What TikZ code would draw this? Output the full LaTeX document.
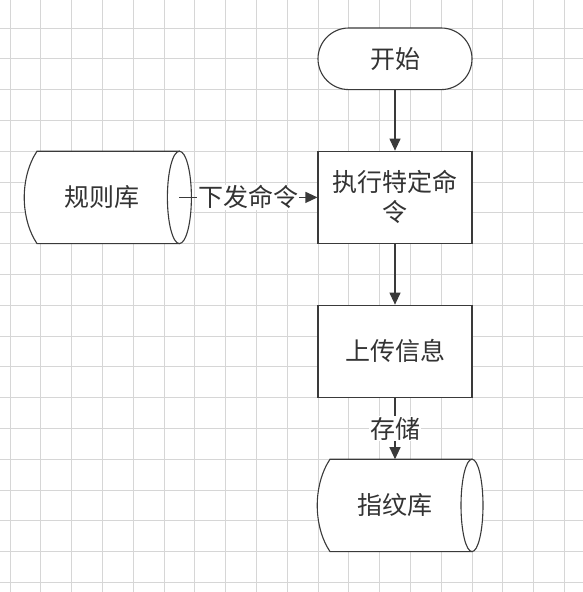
\documentclass[tikz,border=0pt]{standalone}
\usepackage{fontspec}
\newfontfamily\cjk{Noto Sans CJK SC}
\usetikzlibrary{arrows.meta}
\definecolor{gridc}{HTML}{D6D6D6}
\definecolor{linec}{HTML}{3A3A3A}
\definecolor{txtc}{HTML}{333333}
\tikzset{
  txt/.style={font=\cjk\fontsize{25}{30}\selectfont, text=txtc, align=center},
  shapeline/.style={draw=linec, line width=1.1pt, fill=white},
  procbox/.style={txt, shapeline, rectangle, minimum width=154pt, minimum height=92.4pt, inner sep=0pt},
  termbox/.style={txt, shapeline, rectangle, rounded corners=30.8pt, minimum width=154pt, minimum height=61.6pt, inner sep=0pt},
  arr/.style={draw=linec, line width=1.1pt, -{Triangle[width=11pt,length=12pt]}},
  lbl/.style={txt, fill=white, inner sep=1pt},
  gridline/.style={draw=gridc, line width=0.9pt}
}
\begin{document}
\begin{tikzpicture}[x=1pt,y=-1pt]
\useasboundingbox (0,0) rectangle (583,592);
\fill[white] (0,0) rectangle (583,592);
% grid
\foreach \i in {0,...,18} {
  \draw[gridline] ({10+30.8*\i},0) -- ({10+30.8*\i},592);
  \draw[gridline] (0,{28+30.8*\i}) -- (583,{28+30.8*\i});
}
% start
\node[termbox] (start) at (395,58.8) {开始};
% process boxes
\node[procbox] (box1) at (395,197.4) {执行特定命\\令};
\node[procbox] (box2) at (395,351.4) {上传信息};
% left cylinder (规则库)
\path[shapeline] (37,151.2) -- (179.4,151.2) -- (179.4,243.6) -- (37,243.6)
  .. controls (20,218) and (20,177) .. cycle;
\path[shapeline] (179.4,197.4) ellipse [x radius=12, y radius=46.2];
\coordinate (db1e) at (179.4,197.4);
\node[txt] (db1) at (102,197.4) {规则库};
% bottom cylinder (指纹库)
\path[shapeline] (330,459.2) -- (472,459.2) -- (472,551.6) -- (330,551.6)
  .. controls (313,526) and (313,485) .. cycle;
\path[shapeline] (472,505.4) ellipse [x radius=11, y radius=46.2];
\coordinate (db2top) at (395,459.2);
\node[txt] (db2) at (395,505.4) {指纹库};
% connectors
\draw[arr] (start) -- (box1);
\draw[arr] (box1) -- (box2);
\draw[arr] (box2) -- node[lbl] {存储} (db2top);
\draw[arr] (db1e) -- node[lbl] {下发命令} (box1.west);
\end{tikzpicture}
\end{document}
